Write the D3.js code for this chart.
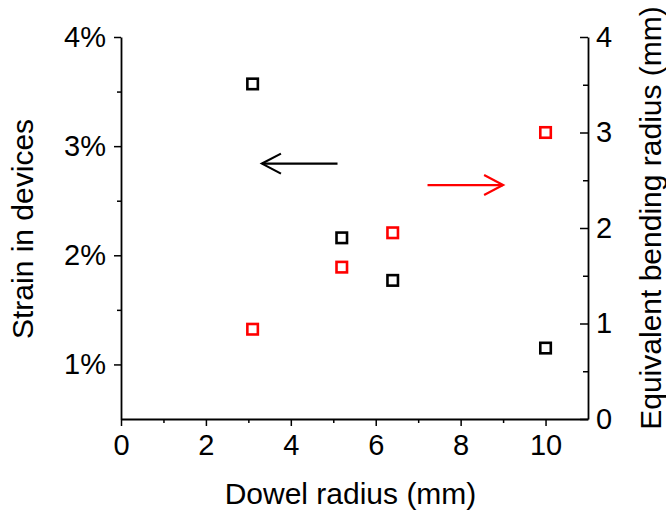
<!DOCTYPE html>
<html>
<head>
<meta charset="utf-8">
<script src="https://cdn.jsdelivr.net/npm/d3@7"></script>
<style>
  body { margin: 0; background: #fff; }
  text { font-family: "Liberation Sans", Arial, sans-serif; fill: #000; }
</style>
</head>
<body>
<svg id="chart" width="666" height="515"></svg>
<script>
// data
const dowelRadius = [3.1, 5.2, 6.4, 10];          // mm
const strainPct = [3.57, 2.16, 1.77, 1.15];       // % (left axis)
const bendingRadius = [0.94, 1.59, 1.95, 3.0];    // mm (right axis)

const xTicks = [0, 2, 4, 6, 8, 10];
const leftTicks = [1, 2, 3, 4];
const rightTicks = [0, 1, 2, 3, 4];

// annotation arrows, in data units: [x1, x2, y]
const strainArrow = [5.1, 3.32, 2.84];
const radiusArrow = [7.22, 9.0, 2.45];

const width = 666, height = 515;
const margin = { top: 37, right: 78, bottom: 96, left: 121 };
const svg = d3.select("#chart");

const x = d3.scaleLinear().domain([0, 11]).range([margin.left, width - margin.right]);
const yL = d3.scaleLinear().domain([0.5, 4]).range([height - margin.bottom, margin.top]);
const yR = d3.scaleLinear().domain([0, 4]).range([height - margin.bottom, margin.top]);

function styleAxis(g) {
  g.selectAll(".domain").attr("stroke", "#000").attr("stroke-width", 1.8);
  g.selectAll(".tick line").attr("stroke", "#000").attr("stroke-width", 1.5);
  g.selectAll(".tick text").style("font-size", "29px");
}

// minor ticks first (no labels)
const gxMinor = svg.append("g")
  .attr("transform", `translate(0,${height - margin.bottom})`)
  .call(d3.axisBottom(x).tickValues(d3.range(1, 11, 2)).tickSize(4).tickFormat(""));
gxMinor.select(".domain").remove();
gxMinor.selectAll(".tick line").attr("stroke", "#000").attr("stroke-width", 1.5);

const gyLMinor = svg.append("g")
  .attr("transform", `translate(${margin.left},0)`)
  .call(d3.axisLeft(yL).tickValues([1.5, 2.5, 3.5]).tickSize(4).tickFormat(""));
gyLMinor.select(".domain").remove();
gyLMinor.selectAll(".tick line").attr("stroke", "#000").attr("stroke-width", 1.5);

const gyRMinor = svg.append("g")
  .attr("transform", `translate(${width - margin.right},0)`)
  .call(d3.axisLeft(yR).tickValues([0.5, 1.5, 2.5, 3.5]).tickSize(5).tickFormat(""));
gyRMinor.select(".domain").remove();
gyRMinor.selectAll(".tick line").attr("stroke", "#000").attr("stroke-width", 1.5);

// bottom axis
const gx = svg.append("g")
  .attr("transform", `translate(0,${height - margin.bottom})`)
  .call(d3.axisBottom(x).tickValues(xTicks).tickSize(7).tickSizeOuter(0).tickPadding(8));
styleAxis(gx);

// left axis
const gyL = svg.append("g")
  .attr("transform", `translate(${margin.left},0)`)
  .call(d3.axisLeft(yL).tickValues(leftTicks).tickSize(7).tickSizeOuter(0).tickPadding(8)
    .tickFormat(d => d + "%"));
styleAxis(gyL);

// right axis (ticks point inward)
const gyR = svg.append("g")
  .attr("transform", `translate(${width - margin.right},0)`)
  .call(d3.axisRight(yR).tickValues(rightTicks).tickSizeOuter(0).tickSize(0).tickPadding(8)
    .tickFormat(d3.format("d")));
styleAxis(gyR);
gyR.selectAll(".tick line").attr("x2", -8);

// axis titles
svg.append("text")
  .attr("x", x(5.5) - 4)
  .attr("y", 504)
  .attr("text-anchor", "middle")
  .style("font-size", "30px")
  .text("Dowel radius (mm)");

svg.append("text")
  .attr("transform", `translate(33,229) rotate(-90)`)
  .attr("text-anchor", "middle")
  .style("font-size", "30px")
  .text("Strain in devices");

svg.append("text")
  .attr("transform", `translate(661,218) rotate(-90)`)
  .attr("text-anchor", "middle")
  .style("font-size", "30px")
  .text("Equivalent bending radius (mm)");

// markers
const side = 10.5;
svg.append("g").selectAll("rect")
  .data(dowelRadius.map((d, i) => [d, strainPct[i]]))
  .join("rect")
  .attr("x", d => x(d[0]) - side / 2)
  .attr("y", d => yL(d[1]) - side / 2)
  .attr("width", side)
  .attr("height", side)
  .attr("fill", "none")
  .attr("stroke", "#000")
  .attr("stroke-width", 2.6);

svg.append("g").selectAll("rect")
  .data(dowelRadius.map((d, i) => [d, bendingRadius[i]]))
  .join("rect")
  .attr("x", d => x(d[0]) - side / 2)
  .attr("y", d => yR(d[1]) - side / 2)
  .attr("width", side)
  .attr("height", side)
  .attr("fill", "none")
  .attr("stroke", "#ff0000")
  .attr("stroke-width", 2.6);

// arrows
function arrow(x1, x2, y, color) {
  const dir = Math.sign(x2 - x1);
  const g = svg.append("g").attr("fill", "none").attr("stroke", color)
    .attr("stroke-width", 2.2).attr("stroke-linecap", "butt");
  g.append("line").attr("x1", x1).attr("x2", x2).attr("y1", y).attr("y2", y);
  g.append("path").attr("d", `M${x2 - dir * 19},${y - 10}L${x2},${y}L${x2 - dir * 19},${y + 10}`);
}
arrow(x(strainArrow[0]), x(strainArrow[1]), yL(strainArrow[2]), "#000");
arrow(x(radiusArrow[0]), x(radiusArrow[1]), yR(radiusArrow[2]), "#ff0000");
</script>
</body>
</html>
